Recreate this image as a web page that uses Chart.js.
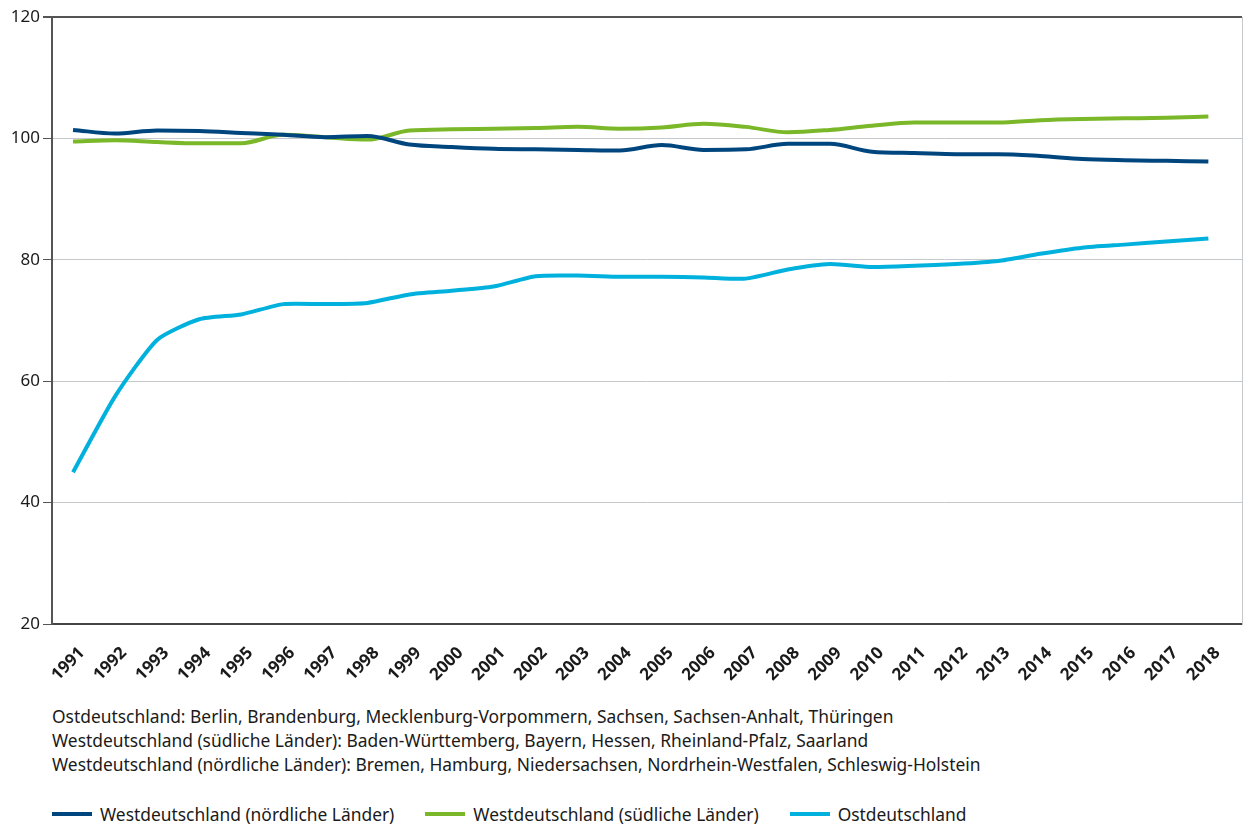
<!DOCTYPE html>
<html lang="de">
<head>
<meta charset="utf-8">
<script src="https://cdn.jsdelivr.net/npm/chart.js@4/dist/chart.umd.min.js"></script>
<style>
  html, body { margin: 0; padding: 0; background: #fff; }
  body { width: 1244px; height: 826px; position: relative; overflow: hidden; font-family: 'Noto Sans', sans-serif; color: #1a1a1a; }
  #chart { position: absolute; left: 0; top: 0; }
  #notes { position: absolute; left: 52px; top: 704px; font-size: 17.4px; line-height: 24px; }
  #legend { position: absolute; left: 52px; top: 802px; font-size: 17.4px; line-height: 24px; display: flex; }
  .item { display: flex; align-items: center; margin-right: 31px; }
  .swatch { width: 40px; height: 4px; margin-right: 8px; }
</style>
</head>
<body>
<canvas id="chart" width="1244" height="700"></canvas>
<div id="notes"></div>
<div id="legend"></div>
<script>
// Jahre
const years = [1991, 1992, 1993, 1994, 1995, 1996, 1997, 1998, 1999, 2000,
  2001, 2002, 2003, 2004, 2005, 2006, 2007, 2008, 2009, 2010,
  2011, 2012, 2013, 2014, 2015, 2016, 2017, 2018];

// Westdeutschland (nördliche Länder)
const nord = [101.4, 100.8, 101.3, 101.2, 100.9, 100.6, 100.2, 100.4, 99.0, 98.6,
  98.3, 98.2, 98.1, 98.0, 98.9, 98.1, 98.2, 99.1, 99.1, 97.8,
  97.6, 97.4, 97.4, 97.1, 96.6, 96.4, 96.3, 96.2];

// Westdeutschland (südliche Länder)
const sued = [99.5, 99.7, 99.4, 99.2, 99.2, 100.6, 100.2, 99.8, 101.3, 101.5,
  101.6, 101.7, 101.9, 101.6, 101.8, 102.4, 101.9, 101.0, 101.4, 102.1,
  102.6, 102.6, 102.6, 103.0, 103.2, 103.3, 103.4, 103.6];

// Ostdeutschland
const ost = [45.0, 57.5, 66.8, 70.2, 71.0, 72.7, 72.7, 72.9, 74.3, 74.9,
  75.6, 77.3, 77.4, 77.2, 77.2, 77.1, 76.9, 78.4, 79.3, 78.8,
  79.0, 79.3, 79.8, 81.0, 82.0, 82.5, 83.0, 83.5];

const seriesNames = ['Westdeutschland (nördliche Länder)', 'Westdeutschland (südliche Länder)', 'Ostdeutschland'];
const seriesColors = ['#00467e', '#7ab829', '#00b1dd'];

const notes = [
  'Ostdeutschland: Berlin, Brandenburg, Mecklenburg-Vorpommern, Sachsen, Sachsen-Anhalt, Thüringen',
  'Westdeutschland (südliche Länder): Baden-Württemberg, Bayern, Hessen, Rheinland-Pfalz, Saarland',
  'Westdeutschland (nördliche Länder): Bremen, Hamburg, Niedersachsen, Nordrhein-Westfalen, Schleswig-Holstein'
];

const yTicks = { min: 20, max: 120, step: 20 };

document.getElementById('notes').innerHTML = notes.map(n => `<div>${n}</div>`).join('');
document.getElementById('legend').innerHTML = seriesNames.map((n, i) =>
  `<div class="item"><span class="swatch" style="background:${seriesColors[i]}"></span>${n}</div>`).join('');

const makeSet = (label, data, color, smooth) => ({
  label, data,
  borderColor: color,
  backgroundColor: color,
  borderWidth: 4,
  pointRadius: 0,
  fill: false,
  ...smooth
});

new Chart(document.getElementById('chart'), {
  type: 'line',
  data: {
    labels: years,
    datasets: [
      makeSet(seriesNames[0], nord, seriesColors[0], { cubicInterpolationMode: 'monotone' }),
      makeSet(seriesNames[1], sued, seriesColors[1], { cubicInterpolationMode: 'monotone' }),
      makeSet(seriesNames[2], ost, seriesColors[2], { tension: 0.2 })
    ]
  },
  options: {
    responsive: false,
    animation: false,
    layout: { padding: { top: 17, right: 2, left: 0, bottom: 0 } },
    plugins: {
      legend: { display: false },
      tooltip: { enabled: false }
    },
    scales: {
      x: {
        type: 'linear',
        min: 1990.5,
        max: 2018.8,
        grid: { display: false },
        border: { color: '#444', width: 2 },
        ticks: {
          stepSize: 1,
          includeBounds: false,
          autoSkip: false,
          maxTicksLimit: 60,
          minRotation: 45,
          maxRotation: 45,
          labelOffset: 9,
          padding: 11,
          color: '#1a1a1a',
          font: { family: 'Noto Sans', size: 17, weight: 'bold' },
          callback: v => String(v)
        },
        afterFit: s => { s.height = 76; }
      },
      y: {
        min: yTicks.min,
        max: yTicks.max,
        border: { color: '#555', width: 2 },
        grid: {
          color: c => c.tick.value === 120 ? '#555' : (c.tick.value === 20 ? 'rgba(0,0,0,0)' : '#c5c9cc'),
          tickColor: '#555',
          tickLength: 9,
          lineWidth: c => c.tick.value === 120 ? 2 : 1
        },
        ticks: {
          stepSize: yTicks.step,
          padding: 3,
          color: '#1a1a1a',
          font: { family: 'Noto Sans', size: 17 }
        },
        afterFit: s => { s.width = 52; }
      },
      y2: {
        position: 'right',
        min: yTicks.min,
        max: yTicks.max,
        grid: { display: false },
        ticks: { display: false },
        border: { color: '#c5c9cc', width: 1 },
        afterFit: s => { s.width = 0; }
      }
    }
  }
});
</script>
</body>
</html>
